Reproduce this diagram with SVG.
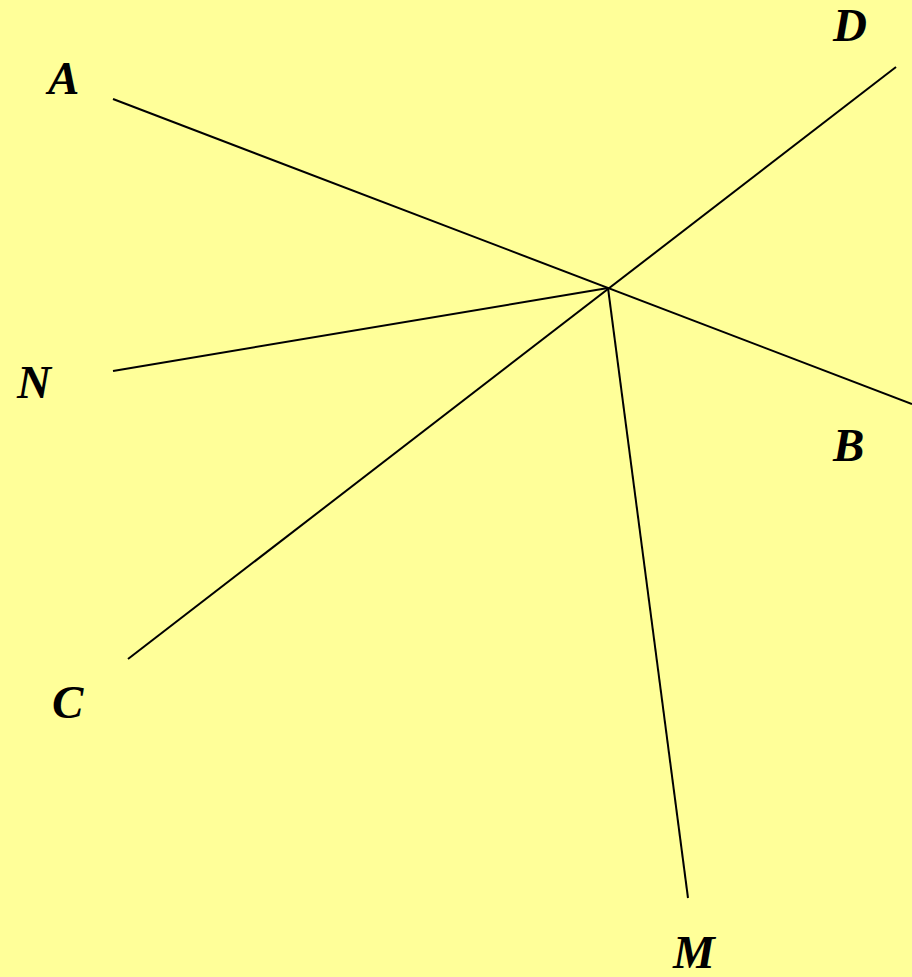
<svg xmlns="http://www.w3.org/2000/svg" width="912" height="977" viewBox="0 0 912 977">
<style>
.bg{fill:#FFFF99}
.ln{stroke:#000;stroke-width:2;fill:none;stroke-linecap:butt}
.lb{font-family:"Liberation Serif","Times New Roman",serif;font-weight:bold;font-style:italic;font-size:47px;fill:#000}
</style>
<rect class="bg" x="0" y="0" width="912" height="977"/>
<g id="connectors">
<line class="ln" x1="113" y1="99" x2="912" y2="404"/>
<line class="ln" x1="896" y1="67" x2="128" y2="659"/>
<line class="ln" x1="113" y1="371" x2="608" y2="288"/>
<line class="ln" x1="608" y1="288" x2="688" y2="898"/>
</g>
<g id="A"><text class="lb" x="48" y="94">A</text></g>
<g id="D"><text class="lb" x="833" y="41">D</text></g>
<g id="N"><text class="lb" x="17" y="398">N</text></g>
<g id="B"><text class="lb" x="833" y="461">B</text></g>
<g id="C"><text class="lb" x="52" y="718">C</text></g>
<g id="M"><text class="lb" x="673" y="968">M</text></g>
</svg>
